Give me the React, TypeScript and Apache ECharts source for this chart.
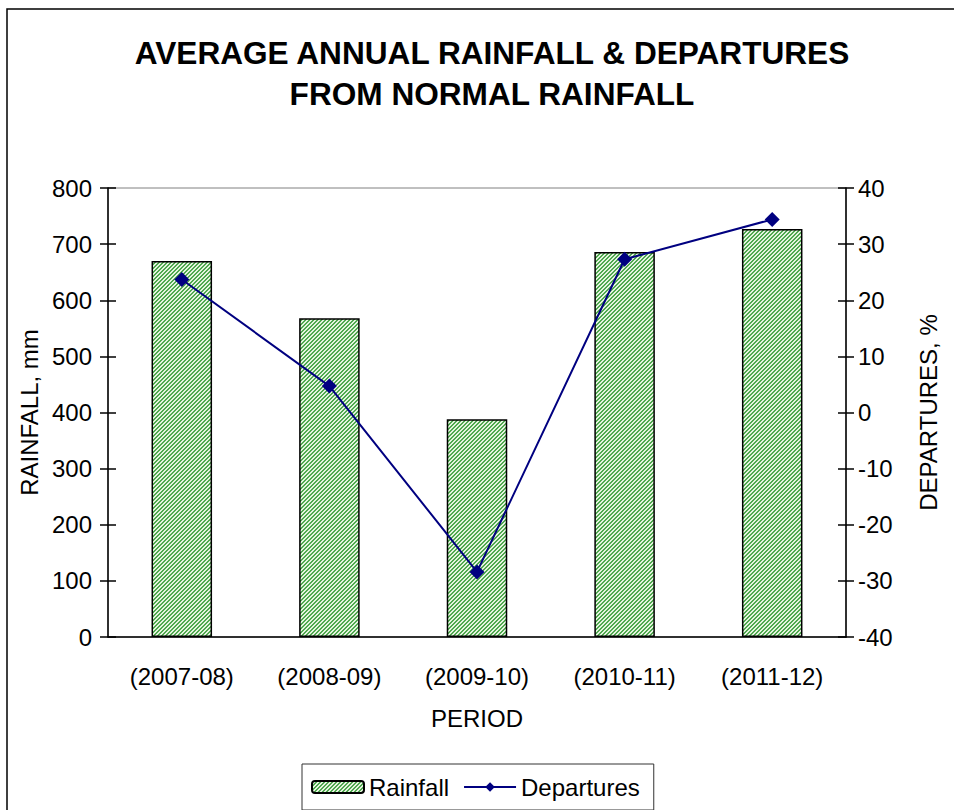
import React, { useEffect, useRef } from "react";
import * as echarts from "echarts";

const categories = ["(2007-08)", "(2008-09)", "(2009-10)", "(2010-11)", "(2011-12)"];
const rainfall = [670, 568, 388, 686, 727];
const departures = [23.7, 4.7, -28.4, 27.3, 34.4];
const TITLE = "AVERAGE ANNUAL RAINFALL & DEPARTURES\nFROM NORMAL RAINFALL";

const FONT = "'Liberation Sans', Arial, sans-serif";

function makePattern(): HTMLCanvasElement {
  const c = document.createElement("canvas");
  c.width = 4;
  c.height = 4;
  const ctx = c.getContext("2d")!;
  ctx.fillStyle = "#e4f4de";
  ctx.fillRect(0, 0, 4, 4);
  ctx.fillStyle = "#4fa84f";
  for (let x = 0; x < 4; x++) {
    for (let y = 0; y < 4; y++) {
      const k = (x + y) % 4;
      if (k === 0 || k === 1) ctx.fillRect(x, y, 1, 1);
    }
  }
  return c;
}

export default function App() {
  const ref = useRef<HTMLDivElement>(null);
  useEffect(() => {
    if (!ref.current) return;
    const chart = echarts.init(ref.current, null, { renderer: "svg" });
    const pattern = makePattern();
    const axisLabelStyle = { color: "#000", fontSize: 24, fontFamily: FONT };
    const nameStyle = { color: "#000", fontSize: 24, fontFamily: FONT };
    chart.setOption({
      animation: false,
      backgroundColor: "#fff",
      textStyle: { fontFamily: FONT },
      title: {
        text: TITLE,
        left: 487,
        top: 27,
        textAlign: "center",
        textStyle: { fontSize: 31.6, fontWeight: "bold", color: "#000", lineHeight: 41, fontFamily: FONT },
      },
      graphic: [
        {
          type: "rect",
          shape: { x: 7, y: 9, width: 1200, height: 1200 },
          style: { fill: "none", stroke: "#000", lineWidth: 1.5 },
          silent: true,
        },
      ],
      legend: {
        left: 302,
        top: 764,
        itemWidth: 52,
        itemHeight: 12,
        itemGap: 14,
        padding: [11, 14, 11, 9],
        borderColor: "#333",
        borderWidth: 1,
        textStyle: { color: "#000", fontSize: 24, fontFamily: FONT },
        data: ["Rainfall", "Departures"],
      },
      grid: {
        left: 108,
        right: 108,
        top: 188,
        bottom: 173,
        show: true,
        borderColor: "#808080",
        borderWidth: 1,
        backgroundColor: "transparent",
      },
      xAxis: [
        {
          type: "category",
          data: categories,
          position: "bottom",
          name: "PERIOD",
          nameLocation: "middle",
          nameGap: 69,
          nameTextStyle: nameStyle,
          axisLine: { lineStyle: { color: "#000", width: 1.5 } },
          axisTick: { length: 8, lineStyle: { color: "#000", width: 1.5 } },
          axisLabel: { ...axisLabelStyle, margin: 27 },
        },
        {
          type: "category",
          data: categories,
          position: "bottom",
          axisLine: { show: false },
          axisTick: { inside: true, length: 8, lineStyle: { color: "#000", width: 1.5 } },
          axisLabel: { show: false },
        },
      ],
      yAxis: [
        {
          type: "value",
          min: 0,
          max: 800,
          interval: 100,
          position: "left",
          name: "RAINFALL, mm",
          nameLocation: "middle",
          nameGap: 66,
          nameRotate: 90,
          nameTextStyle: nameStyle,
          axisLine: { show: true, lineStyle: { color: "#000", width: 1.5 } },
          axisTick: { show: true, length: 8, lineStyle: { color: "#000", width: 1.5 } },
          axisLabel: { ...axisLabelStyle, margin: 16 },
          splitLine: { show: false },
        },
        {
          type: "value",
          min: -40,
          max: 40,
          interval: 10,
          position: "right",
          name: "DEPARTURES, %",
          nameLocation: "middle",
          nameGap: 70,
          nameRotate: 90,
          nameTextStyle: nameStyle,
          axisLine: { show: true, lineStyle: { color: "#000", width: 1.5 } },
          axisTick: { show: true, length: 8, lineStyle: { color: "#000", width: 1.5 } },
          axisLabel: { ...axisLabelStyle, margin: 12 },
          splitLine: { show: false },
        },
        {
          type: "value",
          min: 0,
          max: 800,
          interval: 100,
          position: "left",
          axisLine: { show: false },
          axisTick: { show: true, inside: true, length: 8, lineStyle: { color: "#000", width: 1.5 } },
          axisLabel: { show: false },
          splitLine: { show: false },
        },
        {
          type: "value",
          min: -40,
          max: 40,
          interval: 10,
          position: "right",
          axisLine: { show: false },
          axisTick: { show: true, inside: true, length: 8, lineStyle: { color: "#000", width: 1.5 } },
          axisLabel: { show: false },
          splitLine: { show: false },
        },
      ],
      series: [
        {
          name: "Rainfall",
          type: "bar",
          xAxisIndex: 0,
          yAxisIndex: 0,
          data: rainfall,
          barWidth: "41%",
          itemStyle: {
            color: { image: pattern, repeat: "repeat" },
            borderColor: "#000",
            borderWidth: 1.5,
          },
        },
        {
          name: "Departures",
          type: "line",
          xAxisIndex: 0,
          yAxisIndex: 1,
          data: departures,
          symbol: "diamond",
          symbolSize: 15,
          lineStyle: { color: "#000080", width: 2 },
          itemStyle: { color: "#000080" },
          z: 5,
        },
      ],
    });
    return () => chart.dispose();
  }, []);
  return (
    <div
      ref={ref}
      style={{ position: "fixed", left: 0, top: 0, width: 954, height: 810, background: "#fff" }}
    />
  );
}
